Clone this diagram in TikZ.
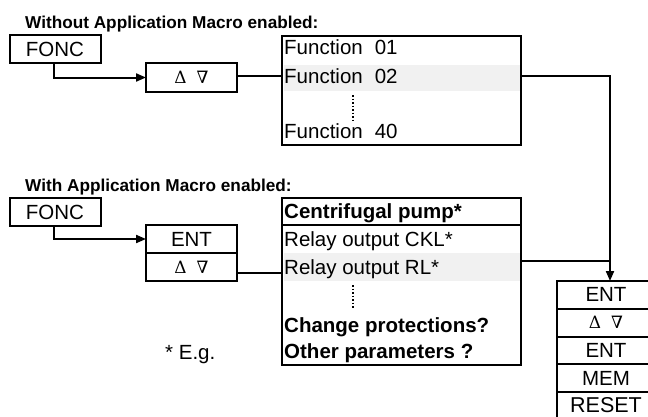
\documentclass[tikz,border=0pt]{standalone}
\usepackage{fontspec}
\setmainfont{Liberation Sans}
\newfontfamily\symfnt{DejaVu Serif}
\usepackage{tikz}
\usetikzlibrary{arrows.meta,positioning}

\definecolor{bandgray}{gray}{0.945}
\newcommand{\updn}{{\symfnt\fontsize{17}{20}\selectfont Δ\hspace{10pt}∇}}

\begin{document}
\begin{tikzpicture}[
    x=1pt, y=-1pt,
    key/.style={
        rectangle, draw=black, line width=2pt,
        outer sep=0pt, inner sep=0pt,
        minimum width=91pt, minimum height=28pt,
        font=\fontsize{20.5}{24}\selectfont
    },
    listbox/.style={
        rectangle, draw=black, line width=2pt,
        outer sep=0pt, inner sep=0pt, minimum width=239pt
    },
    band/.style={
        rectangle, fill=bandgray, inner sep=0pt, outer sep=0pt,
        minimum width=236pt
    },
    entry/.style={anchor=base west, inner sep=0pt, font=\fontsize{20.5}{24}\selectfont},
    title/.style={anchor=base west, inner sep=0pt, font=\fontsize{17.2}{20}\selectfont\bfseries},
    arrow/.style={-{Triangle[length=10pt,width=8pt]}, line width=2pt},
    link/.style={line width=2pt},
    dots/.style={dotted, line width=1.5pt}
]
\useasboundingbox (0,0) rectangle (648,416);
\clip (0,0) rectangle (648,416);

% Without macro
\node[title] (ttl1) at (25,28) {Without Application Macro enabled:};
\node[key] (fonc1) at (55,49) {FONC};
\node[key, minimum height=29pt] (updn1) at (191.5,77.5) {\updn};

\node[band, minimum height=26pt] (hi1) at (401.5,78) {};
\node[listbox, minimum height=109pt] (list1) at (401.5,90.5) {};
\node[entry] (fn01) at (284,54) {Function\hspace{12pt}01};
\node[entry] (fn02) at (284,83) {Function\hspace{12pt}02};
\node[entry] (fn40) at (284,138) {Function\hspace{12pt}40};
\draw[dots] (353,95) -- (353,122);

% With macro
\node[title] (ttl2) at (25,191) {With Application Macro enabled:};
\node[key] (fonc2) at (55,212) {FONC};
\node[key] (ent1) at (191.5,239) {ENT};
\node[key, below=0pt of ent1] (updn2) {\updn};

\node[band, minimum height=28pt] (hi2) at (401.5,266.5) {};
\node[listbox, minimum height=167pt] (list2) at (401.5,281.5) {};
\node[listbox, minimum height=27pt] (head2) at (401.5,211.5) {};
\node[entry] (cpump) at (284,218) {\bfseries Centrifugal pump*};
\node[entry] (rckl) at (284,246) {Relay output CKL*};
\node[entry] (rrl) at (284,274) {Relay output RL*};
\draw[dots] (353,285) -- (353,309);
\node[entry] (chprot) at (284,332) {\bfseries Change protections?};
\node[entry] (othpar) at (284,358) {\bfseries Other parameters ?};

\node[entry] (eg) at (165,359) {* E.g.};

% Key sequence
\node[key, minimum width=98pt, minimum height=27.8pt] (col1) at (606,294.9) {ENT};
\node[key, minimum width=98pt, minimum height=27.8pt, below=0pt of col1] (col2) {\updn};
\node[key, minimum width=98pt, minimum height=27.8pt, below=0pt of col2] (col3) {ENT};
\node[key, minimum width=98pt, minimum height=27.8pt, below=0pt of col3] (col4) {MEM};
\node[key, minimum width=98pt, minimum height=27.8pt, below=0pt of col4,
      font=\fontsize{21.5}{26}\selectfont] (col5) {\raisebox{2pt}{RESET}};

% Connectors
\coordinate (in1) at ([yshift=1.5pt]updn1.east);
\coordinate (in2) at ([yshift=-6pt]updn2.east);
\coordinate (o2) at (list2.east |- hi2);
\coordinate (out1) at (list1.east |- fn02);
\coordinate (out2) at ([yshift=5.5pt]o2);
\coordinate (drop) at (610,261);

\draw[arrow] ([xshift=-1pt]fonc1.south) |- (updn1.west);
\draw[link] (in1) -- (in1 -| list1.west);
\draw[arrow] ([xshift=-1pt]fonc2.south) |- (ent1.west);
\draw[link] (in2) -- (in2 -| list2.west);

\draw[link] (out1) -| (drop);
\draw[link] (out2) -- (drop);
\draw[arrow] (drop) -- (drop |- col1.north);
\end{tikzpicture}
\end{document}
